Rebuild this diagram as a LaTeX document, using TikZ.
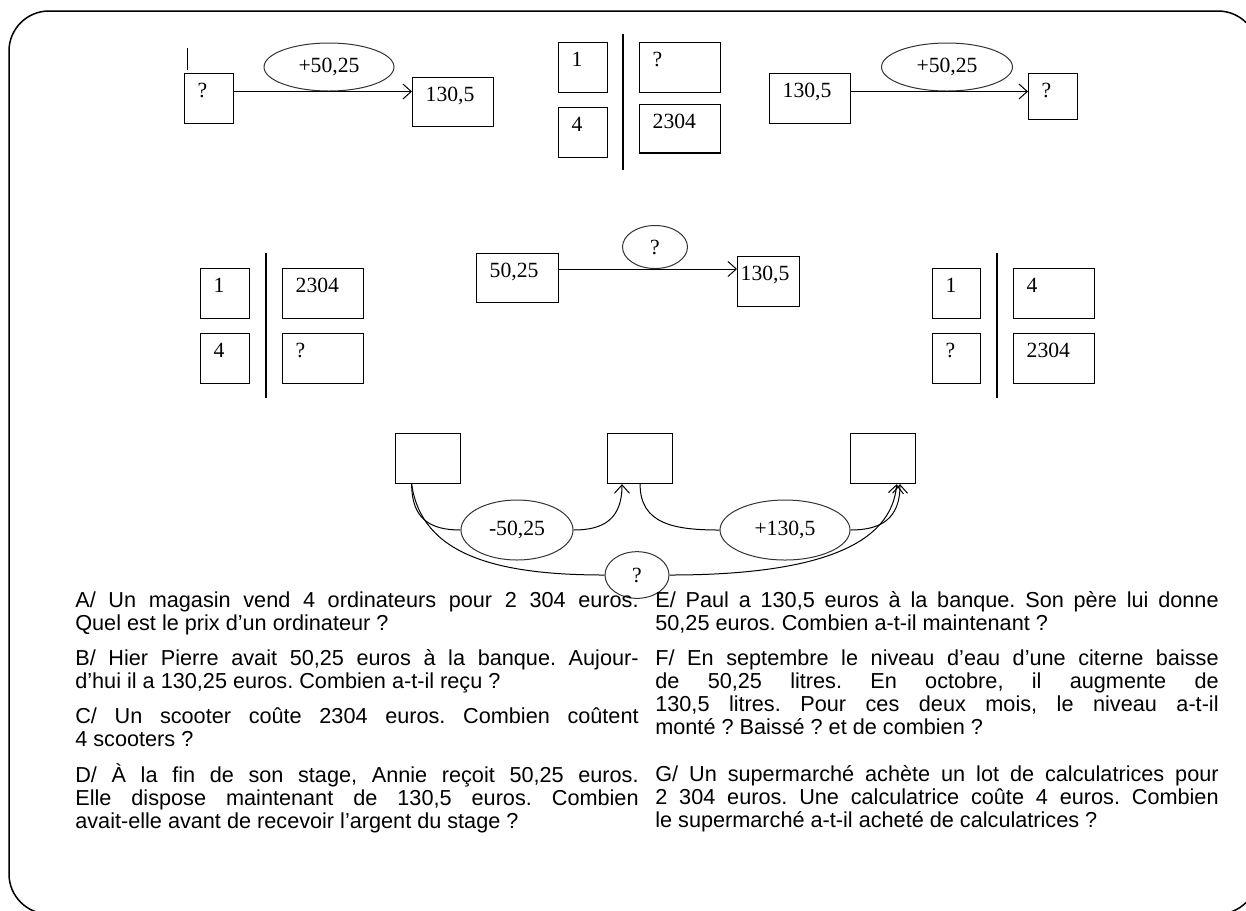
\documentclass[tikz,border=0pt]{standalone}
\usepackage{fontspec}
\setmainfont{Liberation Serif}
\newfontfamily\sansenonce{Liberation Sans}
\usetikzlibrary{arrows.meta,positioning,shapes.geometric,calc}
\tolerance=10000
\hyphenpenalty=10000
\exhyphenpenalty=10000
\frenchspacing
\begin{document}
\begin{tikzpicture}[x=0.6pt,y=-0.6pt,font=\fontsize{13}{15}\selectfont,
 cell/.style={draw,line width=0.7pt,inner sep=0pt,anchor=north west,
 minimum width=29.4pt,minimum height=30pt},
 wide/.style={cell,minimum width=48.6pt},
 txt/.style={anchor=north west,inner sep=0pt,xshift=8pt,yshift=-6pt},
 op/.style={ellipse,draw=black!80,line width=0.6pt,inner sep=0pt},
 arr/.style={-{Straight Barb[length=5pt,width=9pt]},line width=0.6pt},
 enonce/.style={anchor=north west,inner sep=0pt,text width=338pt,align=justify,
 font=\sansenonce\fontsize{13}{13.8}\selectfont,
 execute at begin node={\rule{0pt}{11pt}}}]
 \fill[white] (0,0) rectangle (1246,910);
 \useasboundingbox (0,0) rectangle (1246,910);
 % cadre
 \begin{scope}
 \clip (0,0) rectangle (1246,910);
 \draw[overlay,line width=0.9pt,rounded corners=24pt]
 (1258,70) -- (1258,11) -- (9,11) -- (9,914) -- (70,914);
 \draw[overlay,line width=0.9pt,rounded corners=24pt]
 (1258,850) -- (1258,914) -- (1190,914);
 \end{scope}
 % haut gauche
 \draw[line width=0.6pt] (187,48) -- (187,70);
 \node[cell,label={[txt]north west:?}] (q1) at (184,73) {};
 \node[wide,minimum height=29.4pt,label={[txt]north west:130,5}] (r1) at (412,77) {};
 \node[op,minimum width=78pt,minimum height=28.8pt] (e1) at (329,67) {+50,25};
 \draw[arr] (q1.east |- e1.south) -- (r1.west |- e1.south);
 % haut milieu
 \node[cell,label={[txt]north west:1}] (a1) at (558,42) {};
 \node[cell,label={[txt]north west:4}] (a2) at (558,107) {};
 \node[wide,label={[txt]north west:?}] (b1) at (639,42) {};
 \node[wide,minimum height=29pt,label={[txt]north west:2304}] (b2) at (639,104) {};
 \draw[line width=0.7pt] (623,34) -- (623,170);
 % haut droite
 \node[wide,label={[txt]north west:130,5}] (r2) at (769,73) {};
 \node[cell,minimum height=27.6pt,label={[txt]north west:?}] (q2) at (1028,73) {};
 \node[op,minimum width=78.6pt,minimum height=28.8pt] (e2) at (947,67) {+50,25};
 \draw[arr] (r2.east |- e2.south) -- (q2.west |- e2.south);
 % milieu gauche
 \node[cell,label={[txt]north west:1}] (c1) at (200,268) {};
 \node[cell,label={[txt]north west:4}] (c2) at (200,333) {};
 \node[wide,label={[txt]north west:2304}] (d1) at (282,268) {};
 \node[wide,label={[txt]north west:?}] (d2) at (282,333) {};
 \draw[line width=0.7pt] (266,253) -- (266,398);
 % milieu centre
 \node[wide,minimum width=49.2pt,minimum height=29.4pt,label={[txt]north west:50,25}] (s1) at (476,253) {};
 \node[cell,minimum width=37.2pt,label={[txt,xshift=-6pt]north west:130,5}] (s2) at (737,256) {};
 \node[op,minimum width=39pt,minimum height=25.8pt] (e3) at (655,247) {?};
 \draw[arr] (s1.east |- e3.south) -- (s2.west |- e3.south);
 % milieu droite
 \node[cell,minimum width=28.8pt,label={[txt]north west:1}] (f1) at (932,268) {};
 \node[cell,minimum width=28.8pt,label={[txt]north west:?}] (f2) at (932,333) {};
 \node[wide,label={[txt]north west:4}] (g1) at (1013,268) {};
 \node[wide,label={[txt]north west:2304}] (g2) at (1013,333) {};
 \draw[line width=0.7pt] (997,253) -- (997,398);
 % bas
 \node[cell,minimum width=39pt,minimum height=30pt] (p1) at (395,433) {};
 \node[cell,minimum width=39pt,minimum height=30pt] (p2) at (607,433) {};
 \node[cell,minimum width=39pt,minimum height=30pt] (p3) at (850,433) {};
 \node[op,minimum width=67.2pt,minimum height=36pt] (m1) at (517,530) {-50,25};
 \node[op,minimum width=78pt,minimum height=36pt] (m2) at (785,530) {+130,5};
 \node[op,minimum width=38.4pt,minimum height=28pt] (m3) at (637,575) {?};
 \draw[line width=0.6pt] ([xshift=10pt]p1.south west) .. controls +(0,35) and +(-30,0) .. (m1.west);
 \draw[arr] (m1.east) .. controls +(30,0) and +(0,35) .. ([xshift=9pt]p2.south west);
 \draw[line width=0.6pt] (p2.south) .. controls +(0,40) and +(-45,0) .. (m2.west);
 \draw[arr] (m2.east) .. controls +(30,0) and +(0,35) .. ([xshift=30pt]p3.south west);
 \draw[line width=0.6pt] ([xshift=10pt]p1.south west) .. controls +(10,70) and +(-110,0) .. (m3.west);
 \draw[arr] (m3.east) .. controls +(150,0) and +(-5,60) .. ([xshift=28pt]p3.south west);
 % enonces
 \node[enonce] (A) at (75,589) {A/ Un magasin vend 4 ordinateurs pour 2~304 euros.\linebreak Quel est le prix d’un ordinateur~?};
 \node[enonce] (B) at (75,647) {B/ Hier Pierre avait 50,25 euros à la banque. Aujour-\linebreak d’hui il a 130,25 euros. Combien a-t-il reçu~?};
 \node[enonce] (C) at (75,705) {C/ Un scooter coûte 2304 euros. Combien coûtent\linebreak 4 scooters~?};
 \node[enonce] (D) at (75,763) {D/ À la fin de son stage, Annie reçoit 50,25 euros.\linebreak Elle dispose maintenant de 130,5 euros. Combien\linebreak avait-elle avant de recevoir l’argent du stage~?};
 \node[enonce] (E) at (655,589) {E/ Paul a 130,5 euros à la banque. Son père lui donne\linebreak 50,25 euros. Combien a-t-il maintenant~?};
 \node[enonce] (F) at (655,647) {F/ En septembre le niveau d’eau d’une citerne baisse\linebreak de 50,25 litres. En octobre, il augmente de\linebreak 130,5 litres. Pour ces deux mois, le niveau \mbox{a-t-il}\linebreak monté~? Baissé~? et de combien~?};
 \node[enonce] (G) at (655,763) {G/ Un supermarché achète un lot de calculatrices pour\linebreak 2~304 euros. Une calculatrice coûte 4 euros. Combien\linebreak le supermarché a-t-il acheté de calculatrices~?};
\end{tikzpicture}
\end{document}
